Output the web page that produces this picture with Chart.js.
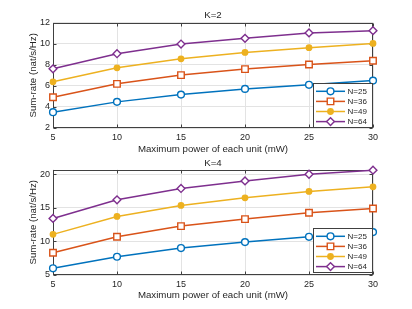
<!DOCTYPE html>
<html>
<head>
<meta charset="utf-8">
<script src="https://cdn.jsdelivr.net/npm/chart.js"></script>
<style>
  html, body { margin: 0; padding: 0; background: #fff; }
  canvas { position: absolute; left: 0; }
  #chartK2 { top: 0; }
  #chartK4 { top: 152px; }
</style>
</head>
<body>
<canvas id="chartK2" width="412" height="155"></canvas>
<canvas id="chartK4" width="412" height="157"></canvas>
<script>
// values
const powerLevels = [5, 10, 15, 20, 25, 30];
const seriesNames = ['N=25', 'N=36', 'N=49', 'N=64'];

const rateK2_N25 = [3.50, 4.48, 5.17, 5.71, 6.10, 6.50];
const rateK2_N36 = [4.92, 6.19, 7.02, 7.59, 8.03, 8.38];
const rateK2_N49 = [6.38, 7.71, 8.57, 9.17, 9.62, 10.03];
const rateK2_N64 = [7.62, 9.05, 9.97, 10.51, 11.02, 11.24];

const rateK4_N25 = [6.00, 7.72, 9.01, 9.90, 10.69, 11.39];
const rateK4_N36 = [8.31, 10.69, 12.28, 13.32, 14.26, 14.91];
const rateK4_N49 = [11.05, 13.72, 15.36, 16.49, 17.44, 18.12];
const rateK4_N64 = [13.42, 16.19, 17.88, 19.01, 20.00, 20.60];

const yTicksK2 = [2, 4, 6, 8, 10, 12];
const yTicksK4 = [5, 10, 15, 20];

const colors = ['#0072BD', '#D95319', '#EDB120', '#7E2F8E'];
const axisColor = '#404040';
const textColor = '#262626';
const fontFamily = '"Liberation Sans", Arial, Helvetica, sans-serif';

// marker look for each series (o, square, filled dot, diamond)
const markers = [
  { pointStyle: 'circle', pointRadius: 3.4, fill: '#fff' },
  { pointStyle: 'rect', pointRadius: 4.6, fill: '#fff' },
  { pointStyle: 'circle', pointRadius: 2.7, fill: colors[2] },
  { pointStyle: 'rectRot', pointRadius: 3.9, fill: '#fff' }
];

function makeDatasets(seriesList) {
  return seriesList.map((vals, i) => ({
    label: seriesNames[i],
    data: powerLevels.map((p, j) => ({ x: p, y: vals[j] })),
    borderColor: colors[i],
    backgroundColor: colors[i],
    borderWidth: 1.5,
    pointStyle: markers[i].pointStyle,
    pointRadius: markers[i].pointRadius,
    pointHoverRadius: markers[i].pointRadius,
    pointBorderWidth: 1.4,
    pointBackgroundColor: markers[i].fill,
    pointBorderColor: colors[i],
    tension: 0,
    clip: false
  }));
}

// matlab style box with inward ticks
const framePlugin = {
  id: 'frame',
  beforeDatasetsDraw(chart) {
    const ctx = chart.ctx;
    const a = chart.chartArea;
    const xs = chart.scales.x, ys = chart.scales.y;
    const L = Math.round(a.left) + 0.5, R = Math.round(a.right) - 0.5;
    const T = Math.round(a.top) + 0.5, B = Math.round(a.bottom) - 0.5;
    ctx.save();
    ctx.strokeStyle = axisColor;
    ctx.lineWidth = 1;
    ctx.strokeRect(L, T, R - L, B - T);
    ctx.beginPath();
    xs.ticks.forEach(t => {
      const px = Math.round(xs.getPixelForValue(t.value)) + 0.5;
      ctx.moveTo(px, B); ctx.lineTo(px, B - 3);
      ctx.moveTo(px, T); ctx.lineTo(px, T + 3);
    });
    ys.ticks.forEach(t => {
      const py = Math.round(ys.getPixelForValue(t.value)) + 0.5;
      ctx.moveTo(L, py); ctx.lineTo(L + 3, py);
      ctx.moveTo(R, py); ctx.lineTo(R - 3, py);
    });
    ctx.stroke();
    ctx.restore();
  }
};

// legend box in the lower right corner, line + marker + name
const boxLegend = {
  id: 'boxLegend',
  afterDatasetsDraw(chart, args, opts) {
    const ctx = chart.ctx;
    const a = chart.chartArea;
    const w = 60, h = 45, rowH = 10.1;
    const right = Math.round(a.right), bottom = Math.round(a.bottom) - (opts.lift || 0);
    const left = right - w, top = bottom - h;
    ctx.save();
    ctx.fillStyle = '#fff';
    ctx.fillRect(left, top, w, h);
    ctx.strokeStyle = axisColor;
    ctx.lineWidth = 1;
    ctx.strokeRect(left + 0.5, top + 0.5, w - 1, h - 1);
    chart.data.datasets.forEach((ds, i) => {
      const y = top + 8.3 + i * rowH;
      ctx.strokeStyle = ds.borderColor;
      ctx.lineWidth = 1.5;
      ctx.beginPath();
      ctx.moveTo(left + 3, y);
      ctx.lineTo(left + 32, y);
      ctx.stroke();
      ctx.fillStyle = ds.pointBackgroundColor;
      ctx.lineWidth = ds.pointBorderWidth;
      Chart.helpers.drawPoint(ctx, {
        pointStyle: ds.pointStyle,
        radius: ds.pointRadius,
        borderWidth: ds.pointBorderWidth,
        rotation: 0
      }, left + 17.5, y);
      ctx.fillStyle = textColor;
      ctx.font = '8px ' + fontFamily;
      ctx.textBaseline = 'middle';
      ctx.textAlign = 'left';
      ctx.fillText(ds.label, left + 34.5, y + 0.5);
    });
    ctx.restore();
  }
};

function makeChart(id, title, seriesList, yMin, yMax, yTicks, layout) {
  const ctx = document.getElementById(id).getContext('2d');
  return new Chart(ctx, {
    type: 'line',
    data: { datasets: makeDatasets(seriesList) },
    plugins: [framePlugin, boxLegend],
    options: {
      responsive: false,
      animation: false,
      events: [],
      layout: { padding: { left: 0, right: 39, top: 0, bottom: 0 } },
      plugins: {
        legend: { display: false },
        tooltip: { enabled: false },
        title: {
          display: true,
          fullSize: false,
          text: title,
          color: textColor,
          font: { family: fontFamily, size: 9.7, weight: 'normal' },
          padding: layout.titlePad
        },
        boxLegend: { lift: layout.legendLift }
      },
      scales: {
        x: {
          type: 'linear',
          min: 5,
          max: 30,
          border: { display: false },
          grid: { color: '#e3e3e3', drawTicks: false },
          ticks: {
            stepSize: 5,
            padding: layout.xTickPad,
            color: textColor,
            font: { family: fontFamily, size: 9 }
          },
          title: {
            display: true,
            text: 'Maximum power of each unit (mW)',
            color: textColor,
            font: { family: fontFamily, size: 9.7 },
            padding: { top: 0, bottom: layout.xTitlePad }
          },
          afterFit(scale) { scale.height = layout.xHeight; }
        },
        y: {
          min: yMin,
          max: yMax,
          border: { display: false },
          grid: { color: '#e3e3e3', drawTicks: false },
          ticks: {
            stepSize: yTicks[1] - yTicks[0],
            padding: 3,
            color: textColor,
            font: { family: fontFamily, size: 9 }
          },
          afterBuildTicks(scale) {
            scale.ticks = yTicks.map(v => ({ value: v }));
          },
          title: {
            display: true,
            text: 'Sum-rate (nat/s/Hz)',
            color: textColor,
            font: { family: fontFamily, size: 9.7 },
            padding: { top: 27.2, bottom: 0 }
          },
          afterFit(scale) { scale.width = 53; }
        }
      }
    }
  });
}

makeChart('chartK2', 'K=2', [rateK2_N25, rateK2_N36, rateK2_N49, rateK2_N64], 2, 12, yTicksK2, {
  titlePad: { top: 10, bottom: 1 },
  xHeight: 27,
  xTickPad: 4,
  xTitlePad: 0,
  legendLift: 0
});

makeChart('chartK4', 'K=4', [rateK4_N25, rateK4_N36, rateK4_N49, rateK4_N64], 5, 20.7, yTicksK4, {
  titlePad: { top: 5.2, bottom: 0.7 },
  xHeight: 34,
  xTickPad: 4.5,
  xTitlePad: 7.5,
  legendLift: 2
});
</script>
</body>
</html>
